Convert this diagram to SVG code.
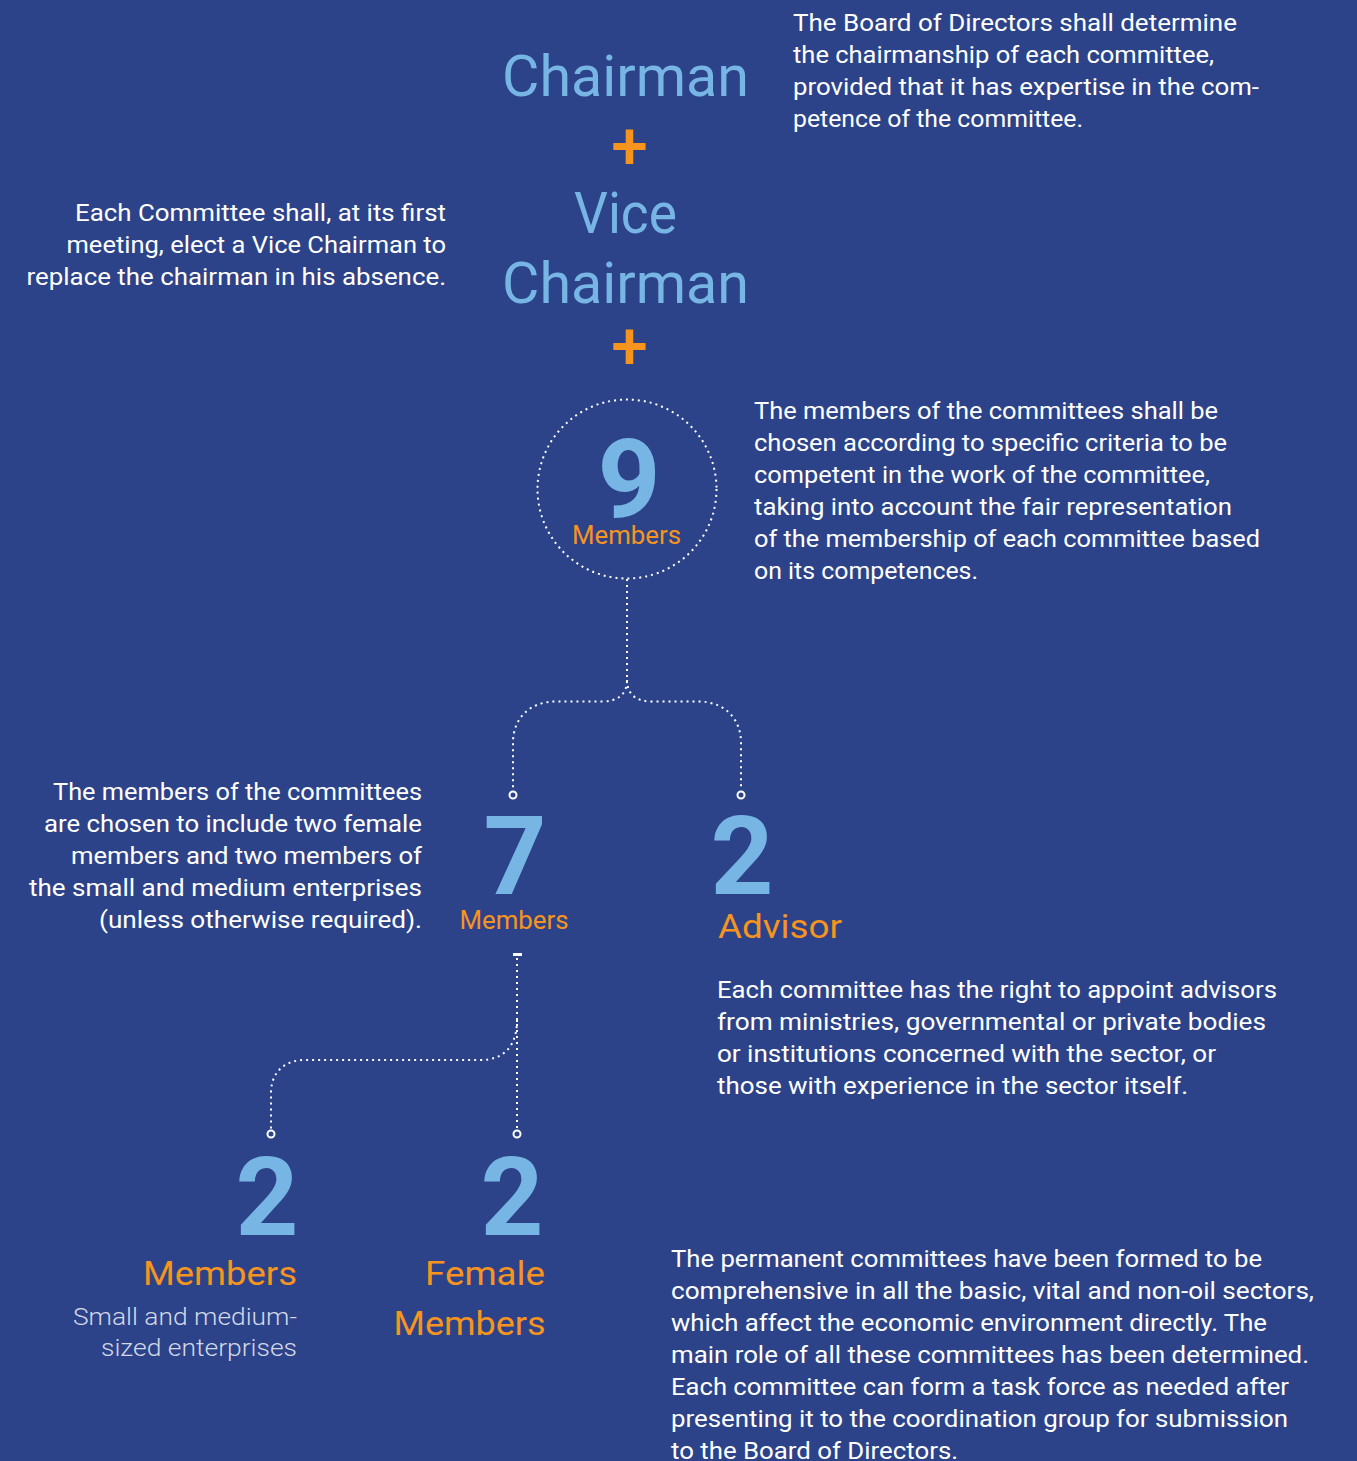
<svg xmlns="http://www.w3.org/2000/svg" width="1357" height="1461" viewBox="0 0 1357 1461">
  <defs>
    <style>
      .bg { fill: #2c4389; }
      .body { font-family: Roboto, "Liberation Sans", sans-serif; font-size: 24px; fill: #ffffff; }
      .note { font-family: Roboto, "Liberation Sans", sans-serif; font-size: 23px; fill: #d3d8e6; font-weight: 300; }
      .title { font-family: Roboto, "Liberation Sans", sans-serif; font-size: 58px; fill: #77b6e4; }
      .plus { font-family: Roboto, "Liberation Sans", sans-serif; font-size: 66px; fill: #f7941e; font-weight: 500; text-anchor: middle; }
      .num { font-family: Roboto, "Liberation Sans", sans-serif; font-size: 110px; font-weight: 700; fill: #77b6e4; text-anchor: middle; }
      .lbl { font-family: Roboto, "Liberation Sans", sans-serif; fill: #f7941e; }
      .dots { fill: none; stroke: #ffffff; stroke-width: 2; stroke-dasharray: 2 4; }
      .end { fill: #2c4389; stroke: #ffffff; stroke-width: 2; }
    </style>
  </defs>

  <rect class="bg" x="0" y="0" width="1357" height="1461"/>

  <!-- connectors -->
  <g id="connectors">
    <circle class="dots" cx="627" cy="489" r="89.5"/>
    <path class="dots" d="M627,579 V680 C627,695 617,701.5 602,701.5 H556 C530,701.5 513,718 513,743 V790"/>
    <path class="dots" d="M627,680 C627,695 637,701.5 652,701.5 H698 C724,701.5 741,718 741,743 V790"/>
    <circle class="end" cx="513" cy="795" r="3.5"/>
    <circle class="end" cx="741" cy="795" r="3.5"/>
    <rect x="513" y="953" width="9" height="3" fill="#ffffff"/>
    <path class="dots" d="M517,958 V1129"/>
    <path class="dots" d="M517,1020 C517,1045 505,1060 480,1060 H305 C285,1060 271,1072 271,1093 V1129"/>
    <circle class="end" cx="517" cy="1134" r="3.5"/>
    <circle class="end" cx="271" cy="1134" r="3.5"/>
  </g>

  <!-- chairman -->
  <g id="chairman">
    <text class="title" x="502" y="96" textLength="247" lengthAdjust="spacingAndGlyphs">Chairman</text>
    <text class="plus" x="629.5" y="169">+</text>
  </g>

  <!-- vice chairman -->
  <g id="vice-chairman">
    <text class="title" x="574" y="233" textLength="103" lengthAdjust="spacingAndGlyphs">Vice</text>
    <text class="title" x="502" y="303" textLength="247" lengthAdjust="spacingAndGlyphs">Chairman</text>
    <text class="plus" x="629.5" y="369">+</text>
  </g>

  <!-- chairmanship note -->
  <g id="note-chairmanship" class="body">
    <text x="793" y="31" textLength="444" lengthAdjust="spacingAndGlyphs">The Board of Directors shall determine</text>
    <text x="793" y="63" textLength="421" lengthAdjust="spacingAndGlyphs">the chairmanship of each committee,</text>
    <text x="793" y="95" textLength="466" lengthAdjust="spacingAndGlyphs">provided that it has expertise in the com-</text>
    <text x="793" y="127" textLength="290" lengthAdjust="spacingAndGlyphs">petence of the committee.</text>
  </g>

  <!-- vice chairman note -->
  <g id="note-vice" class="body">
    <text x="75" y="221" textLength="371" lengthAdjust="spacingAndGlyphs">Each Committee shall, at its first</text>
    <text x="66.5" y="253" textLength="379.5" lengthAdjust="spacingAndGlyphs">meeting, elect a Vice Chairman to</text>
    <text x="26.5" y="285" textLength="419.5" lengthAdjust="spacingAndGlyphs">replace the chairman in his absence.</text>
  </g>

  <!-- nine members -->
  <g id="members-9">
    <text class="num" x="629" y="517">9</text>
    <text class="lbl" x="572" y="544" font-size="25" textLength="109" lengthAdjust="spacingAndGlyphs">Members</text>
  </g>

  <g id="note-members" class="body">
    <text x="754" y="419" textLength="464" lengthAdjust="spacingAndGlyphs">The members of the committees shall be</text>
    <text x="754" y="451" textLength="473" lengthAdjust="spacingAndGlyphs">chosen according to specific criteria to be</text>
    <text x="754" y="483" textLength="456" lengthAdjust="spacingAndGlyphs">competent in the work of the committee,</text>
    <text x="754" y="515" textLength="478" lengthAdjust="spacingAndGlyphs">taking into account the fair representation</text>
    <text x="754" y="547" textLength="506" lengthAdjust="spacingAndGlyphs">of the membership of each committee based</text>
    <text x="754" y="579" textLength="224" lengthAdjust="spacingAndGlyphs">on its competences.</text>
  </g>

  <!-- seven members -->
  <g id="members-7">
    <text class="num" x="515" y="894">7</text>
    <text class="lbl" x="459.5" y="929" font-size="25" textLength="109" lengthAdjust="spacingAndGlyphs">Members</text>
  </g>

  <g id="note-composition" class="body">
    <text x="53" y="800" textLength="369" lengthAdjust="spacingAndGlyphs">The members of the committees</text>
    <text x="44" y="832" textLength="378" lengthAdjust="spacingAndGlyphs">are chosen to include two female</text>
    <text x="71" y="864" textLength="351" lengthAdjust="spacingAndGlyphs">members and two members of</text>
    <text x="29" y="896" textLength="393" lengthAdjust="spacingAndGlyphs">the small and medium enterprises</text>
    <text x="99" y="928" textLength="323" lengthAdjust="spacingAndGlyphs">(unless otherwise required).</text>
  </g>

  <!-- two advisors -->
  <g id="advisors-2">
    <text class="num" x="742" y="894">2</text>
    <text class="lbl" x="718" y="938" font-size="34" textLength="124" lengthAdjust="spacingAndGlyphs">Advisor</text>
  </g>

  <g id="note-advisors" class="body">
    <text x="717" y="998" textLength="560" lengthAdjust="spacingAndGlyphs">Each committee has the right to appoint advisors</text>
    <text x="717" y="1030" textLength="549" lengthAdjust="spacingAndGlyphs">from ministries, governmental or private bodies</text>
    <text x="717" y="1062" textLength="499" lengthAdjust="spacingAndGlyphs">or institutions concerned with the sector, or</text>
    <text x="717" y="1094" textLength="471" lengthAdjust="spacingAndGlyphs">those with experience in the sector itself.</text>
  </g>

  <!-- two SME members -->
  <g id="members-sme">
    <text class="num" x="267" y="1235">2</text>
    <text class="lbl" x="143" y="1285" font-size="34" textLength="154" lengthAdjust="spacingAndGlyphs">Members</text>
    <text class="note" x="73" y="1325" textLength="224" lengthAdjust="spacingAndGlyphs">Small and medium-</text>
    <text class="note" x="101" y="1356" textLength="196" lengthAdjust="spacingAndGlyphs">sized enterprises</text>
  </g>

  <!-- two female members -->
  <g id="members-female">
    <text class="num" x="512" y="1235">2</text>
    <text class="lbl" x="425" y="1285" font-size="34" textLength="120" lengthAdjust="spacingAndGlyphs">Female</text>
    <text class="lbl" x="393.5" y="1335" font-size="34" textLength="152" lengthAdjust="spacingAndGlyphs">Members</text>
  </g>

  <g id="note-permanent" class="body">
    <text x="671" y="1267" textLength="591" lengthAdjust="spacingAndGlyphs">The permanent committees have been formed to be</text>
    <text x="671" y="1299" textLength="643" lengthAdjust="spacingAndGlyphs">comprehensive in all the basic, vital and non-oil sectors,</text>
    <text x="671" y="1331" textLength="596" lengthAdjust="spacingAndGlyphs">which affect the economic environment directly. The</text>
    <text x="671" y="1363" textLength="638" lengthAdjust="spacingAndGlyphs">main role of all these committees has been determined.</text>
    <text x="671" y="1395" textLength="618" lengthAdjust="spacingAndGlyphs">Each committee can form a task force as needed after</text>
    <text x="671" y="1427" textLength="617" lengthAdjust="spacingAndGlyphs">presenting it to the coordination group for submission</text>
    <text x="671" y="1459" textLength="287" lengthAdjust="spacingAndGlyphs">to the Board of Directors.</text>
  </g>
</svg>
